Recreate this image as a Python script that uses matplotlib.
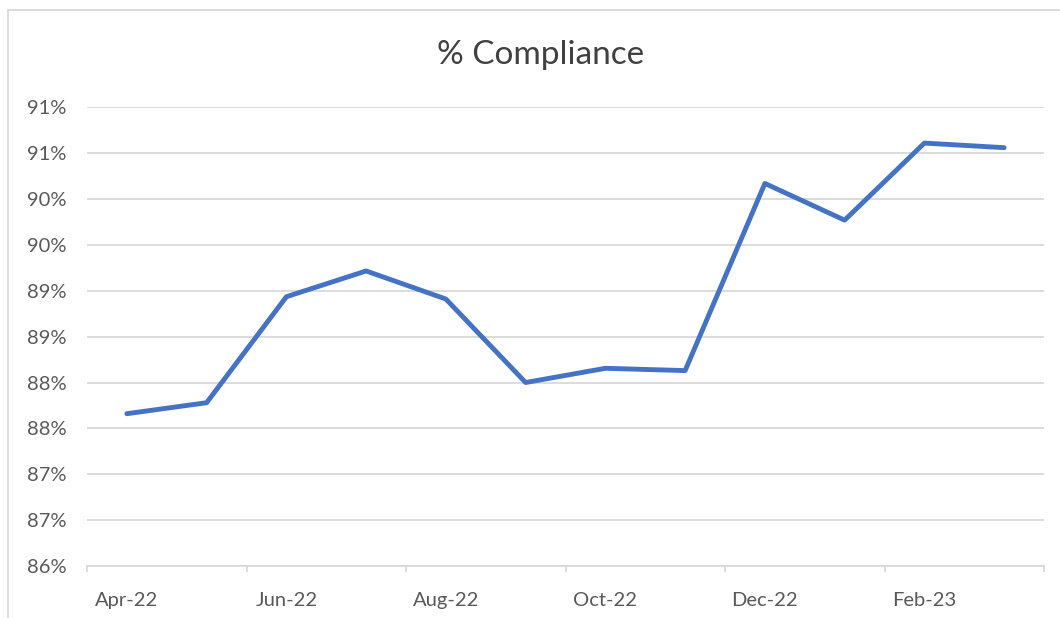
import matplotlib
matplotlib.use("Agg")
import matplotlib.pyplot as plt
from matplotlib.patches import Rectangle
from matplotlib.ticker import FixedLocator, FuncFormatter

months = ["Apr-22", "May-22", "Jun-22", "Jul-22", "Aug-22", "Sep-22",
          "Oct-22", "Nov-22", "Dec-22", "Jan-23", "Feb-23", "Mar-23"]
compliance = [87.66, 87.78, 88.935, 89.216, 88.91, 88.0,
              88.155, 88.13, 90.17, 89.77, 90.61, 90.56]
y_ticks = [86.0, 86.5, 87.0, 87.5, 88.0, 88.5, 89.0, 89.5, 90.0, 90.5, 91.0]
title = "% Compliance"

plt.rcParams['font.family'] = ['Lato', 'DejaVu Sans']
text_color = "#595959"
grid_color = "#D9D9D9"
line_color = "#4472C4"

W, H = 1060, 618
fig = plt.figure(figsize=(W / 100, H / 100), dpi=100)
fig.patch.set_facecolor("white")

# chart frame (cropped at right/bottom)
fig.patches.append(Rectangle((8 / W, -0.1), 1.2, (H - 10) / H + 0.1,
                             transform=fig.transFigure, fill=False,
                             edgecolor=grid_color, linewidth=1.3))

left, right = 87 / W, 1044 / W
bottom, top = (H - 566) / H, (H - 107.3) / H
ax = fig.add_axes([left, bottom, right - left, top - bottom])

x = list(range(len(months)))
ax.plot(x, compliance, color=line_color, linewidth=3.5,
        solid_capstyle="round", solid_joinstyle="round", zorder=3)

ax.set_xlim(-0.5, len(months) - 0.5)
ax.set_ylim(y_ticks[0], y_ticks[-1])

# y axis
ax.yaxis.set_major_locator(FixedLocator(y_ticks))
ax.yaxis.set_major_formatter(FuncFormatter(lambda v, p: f"{int(v + 0.5)}%"))
ax.tick_params(axis="y", length=0, pad=15, labelsize=14.5, labelcolor=text_color)
ax.grid(axis="y", color=grid_color, linewidth=1.3, zorder=0)

# x axis: labels every 2 months, tick marks at month boundaries
label_pos = x[::2]
ax.xaxis.set_major_locator(FixedLocator(label_pos))
ax.set_xticklabels(months[::2])
ax.xaxis.set_minor_locator(FixedLocator([i - 0.5 for i in range(0, len(months) + 1, 2)]))
ax.tick_params(axis="x", which="major", length=0, pad=18.5, labelsize=14.5,
               labelcolor=text_color)
ax.tick_params(axis="x", which="minor", length=4, width=1.3, color=grid_color,
               direction="out")

for s in ["top", "right", "left"]:
    ax.spines[s].set_visible(False)
ax.spines["bottom"].set_color(grid_color)
ax.spines["bottom"].set_linewidth(1.3)
ax.set_facecolor("none")

fig.text(541 / W, (H - 55) / H, title, ha="center", va="center",
         fontsize=24, color="#404040")

fig.savefig("out.png", dpi=100, facecolor="white")
